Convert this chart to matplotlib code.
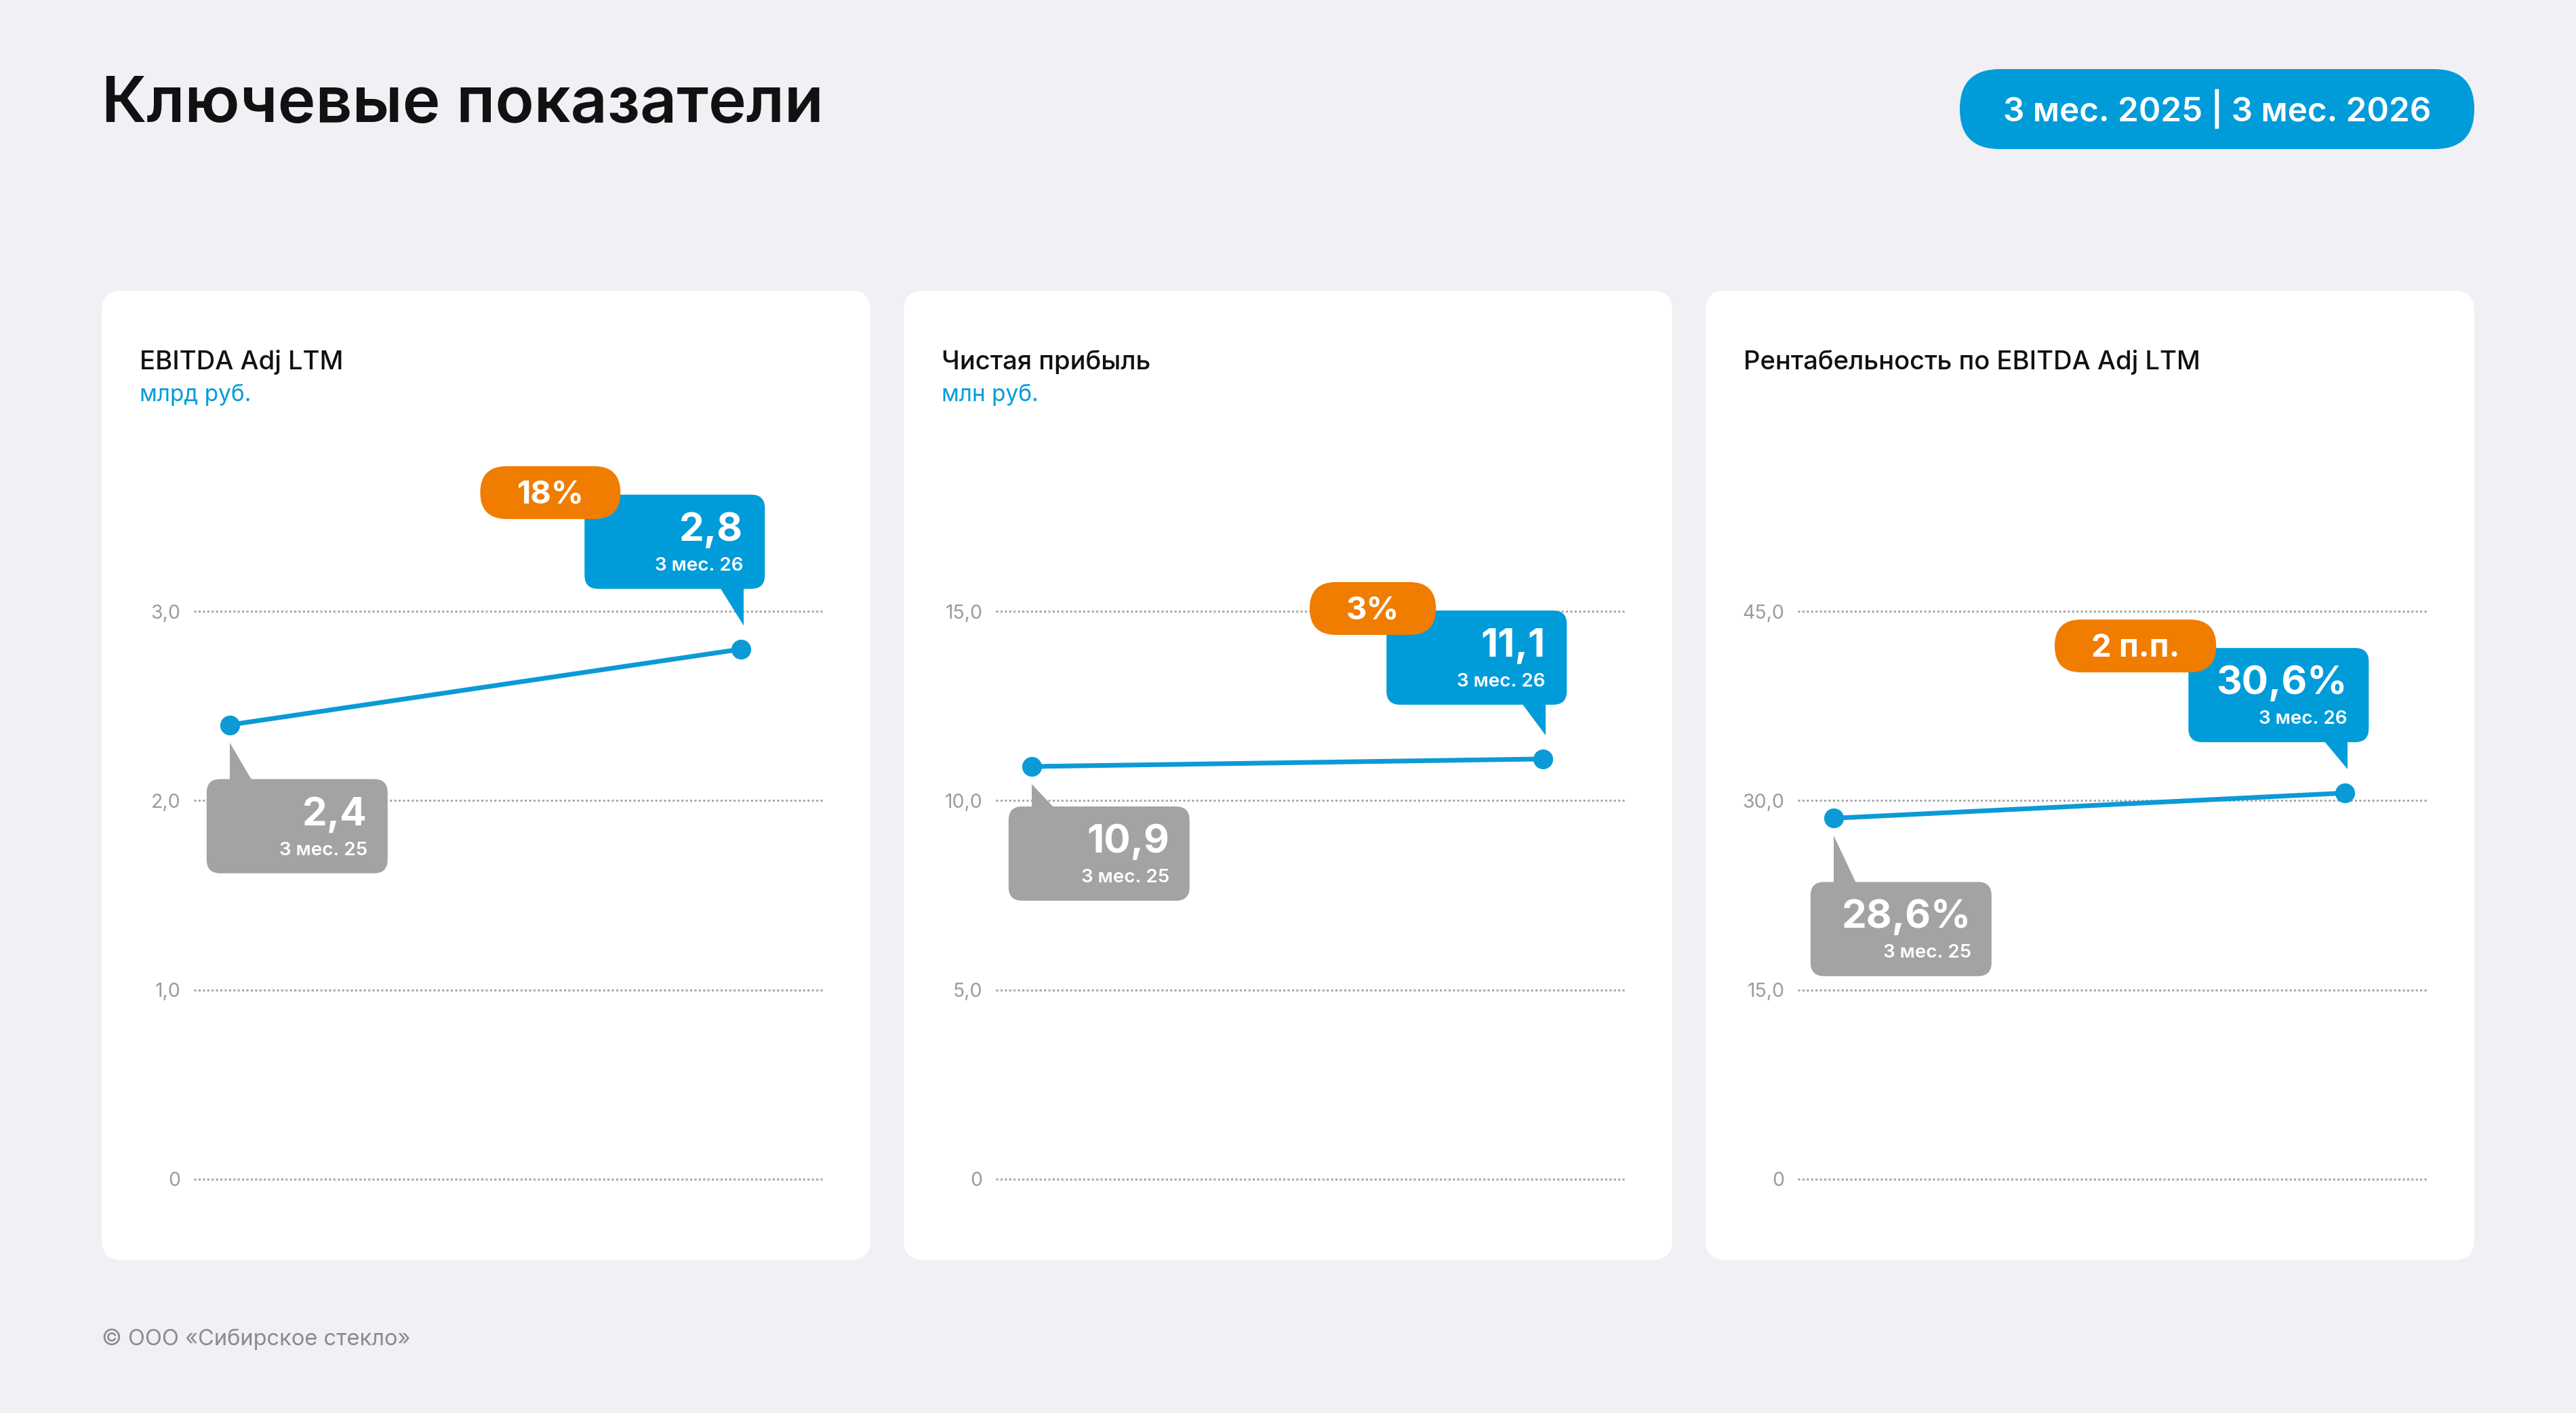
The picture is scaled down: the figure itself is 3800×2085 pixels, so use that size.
import numpy as np
import matplotlib.pyplot as plt
from matplotlib.patches import FancyBboxPatch, Polygon
from matplotlib.transforms import IdentityTransform

plt.rcParams['font.family'] = ['Inter', 'DejaVu Sans']

# данные
titles = ["EBITDA Adj LTM", "Чистая прибыль", "Рентабельность по EBITDA Adj LTM"]
units = ["млрд руб.", "млн руб.", ""]
periods = ["3 мес. 25", "3 мес. 26"]
values_prev = [2.4, 10.9, 28.6]
values_curr = [2.8, 11.1, 30.6]
labels_prev = ["2,4", "10,9", "28,6%"]
labels_curr = ["2,8", "11,1", "30,6%"]
changes = ["18%", "3%", "2 п.п."]
y_ticks = [[0, 1, 2, 3], [0, 5, 10, 15], [0, 15, 30, 45]]
y_tick_labels = [["0", "1,0", "2,0", "3,0"],
                 ["0", "5,0", "10,0", "15,0"],
                 ["0", "15,0", "30,0", "45,0"]]

# оформление
BG = "#F0F0F5"
BLUE = "#009CDA"
LINE = "#0C9AD6"
ORANGE = "#F07D00"
GRAY_BOX = "#A3A3A3"
TICK = "#9C9C9C"
GRID = "#A8A8A8"

W, H = 3800, 2085
ident = IdentityTransform()

# сдвиги выносок относительно точек (px) для каждой панели
gap_prev = [80, 59, 94]
gap_curr = [89, 80, 75]
pill_overlap = [53, 73, 41]

fig = plt.figure(figsize=(W / 100, H / 100), dpi=100)
fig.patch.set_facecolor(BG)
renderer = fig.canvas.get_renderer()


def rbox(x0, y0, w, h, r, color, z):
    # прямоугольник со скруглением, координаты в пикселях (y снизу)
    p = FancyBboxPatch((x0, y0), w, h, boxstyle=f"round,pad=0,rounding_size={r}",
                       fc=color, ec="none", transform=ident, zorder=z)
    fig.add_artist(p)
    return p


def ftext(x, y_top, s, **kw):
    # текст в пикселях, y считается сверху
    return fig.text(x, H - y_top, s, transform=ident, **kw)


# заголовок
ftext(150, 180, "Ключевые показатели", fontsize=68, fontweight="semibold",
      color="#111111", va="baseline", ha="left")

# плашка периода
rbox(2891, H - 220, 759, 118, 59, BLUE, 1)
ftext((2891 + 3650) / 2, 179, "3 мес. 2025 | 3 мес. 2026", fontsize=35.5,
      fontweight="semibold", color="white", ha="center", va="baseline")

# подвал
ftext(150, 1985, "© ООО «Сибирское стекло»", fontsize=23.5, color="#8C8C8C",
      ha="left", va="baseline")

card_left = [150, 1333, 2516]

for i in range(3):
    cx = card_left[i]
    rbox(cx, H - 1859, 1134, 1430, 29, "white", -1)

    ftext(cx + 56, 545, titles[i], fontsize=27.5, fontweight="medium",
          color="#111111", ha="left", va="baseline")
    if units[i]:
        ftext(cx + 56, 592, units[i], fontsize=24, color=BLUE,
              ha="left", va="baseline")

    top = y_ticks[i][-1]
    ppu = 838 / top
    pad = 12
    ax = fig.add_axes([(cx + 136) / W, (H - 1740 - pad) / H, 928 / W, (838 + 2 * pad) / H])
    ax.set_facecolor("none")
    ax.set_xlim(-0.07, 1.16)
    ax.set_ylim(-pad / ppu, top + pad / ppu)
    ax.set_yticks(y_ticks[i], y_tick_labels[i])
    ax.set_xticks([])
    for s in ax.spines.values():
        s.set_visible(False)
    ax.tick_params(axis="y", length=0, pad=14, labelsize=20.5, labelcolor=TICK)
    ax.grid(axis="y", color=GRID, lw=2.2, linestyle=(0, (1, 1.1)))
    ax.set_axisbelow(True)

    ax.plot([0, 1], [values_prev[i], values_curr[i]], color=LINE, lw=5,
            marker="o", ms=20, clip_on=False, zorder=3)

    # выноска для прошлого периода (серая, снизу)
    px, py = ax.transData.transform((0, values_prev[i]))
    btop = py - gap_prev[i]
    bw, bh = 267, 139
    rbox(px - 34, btop - bh, bw, bh, 20, GRAY_BOX, 2)
    fig.add_artist(Polygon([(px, py - 26), (px, btop - 2), (px + 33, btop - 2)],
                           closed=True, fc=GRAY_BOX, ec="none",
                           transform=ident, zorder=2))
    bright = px - 34 + bw
    fig.text(bright - 30, btop - 68, labels_prev[i], transform=ident,
             fontsize=42, fontweight="bold", color="white", ha="right", va="baseline", zorder=3)
    fig.text(bright - 30, btop - 112, periods[0], transform=ident,
             fontsize=20, fontweight="semibold", color="white", ha="right", va="baseline", zorder=3)

    # выноска для текущего периода (синяя, сверху)
    qx, qy = ax.transData.transform((1, values_curr[i]))
    bbot = qy + gap_curr[i]
    bright = qx + 35
    bleft = bright - 266
    rbox(bleft, bbot, 266, bh, 20, BLUE, 2)
    fig.add_artist(Polygon([(qx + 4, qy + 35), (qx + 4, bbot + 2), (qx - 31, bbot + 2)],
                           closed=True, fc=BLUE, ec="none",
                           transform=ident, zorder=2))
    btop2 = bbot + bh
    fig.text(bright - 32, btop2 - 68, labels_curr[i], transform=ident,
             fontsize=42, fontweight="bold", color="white", ha="right", va="baseline", zorder=3)
    fig.text(bright - 32, btop2 - 112, periods[1], transform=ident,
             fontsize=20, fontweight="semibold", color="white", ha="right", va="baseline", zorder=3)

    # плашка изменения
    pill_top = btop2 + 42
    pill_right = bleft + pill_overlap[i]
    t = fig.text(0, 0, changes[i], transform=ident, fontsize=34,
                 fontweight="bold", color="white", ha="center", va="baseline", zorder=5)
    tw = t.get_window_extent(renderer=renderer).width
    pw = tw + 108
    rbox(pill_right - pw, pill_top - 78, pw, 78, 39, ORANGE, 4)
    t.set_position((pill_right - pw / 2, pill_top - 55))

fig.savefig("out.png", dpi=100, facecolor=BG)
